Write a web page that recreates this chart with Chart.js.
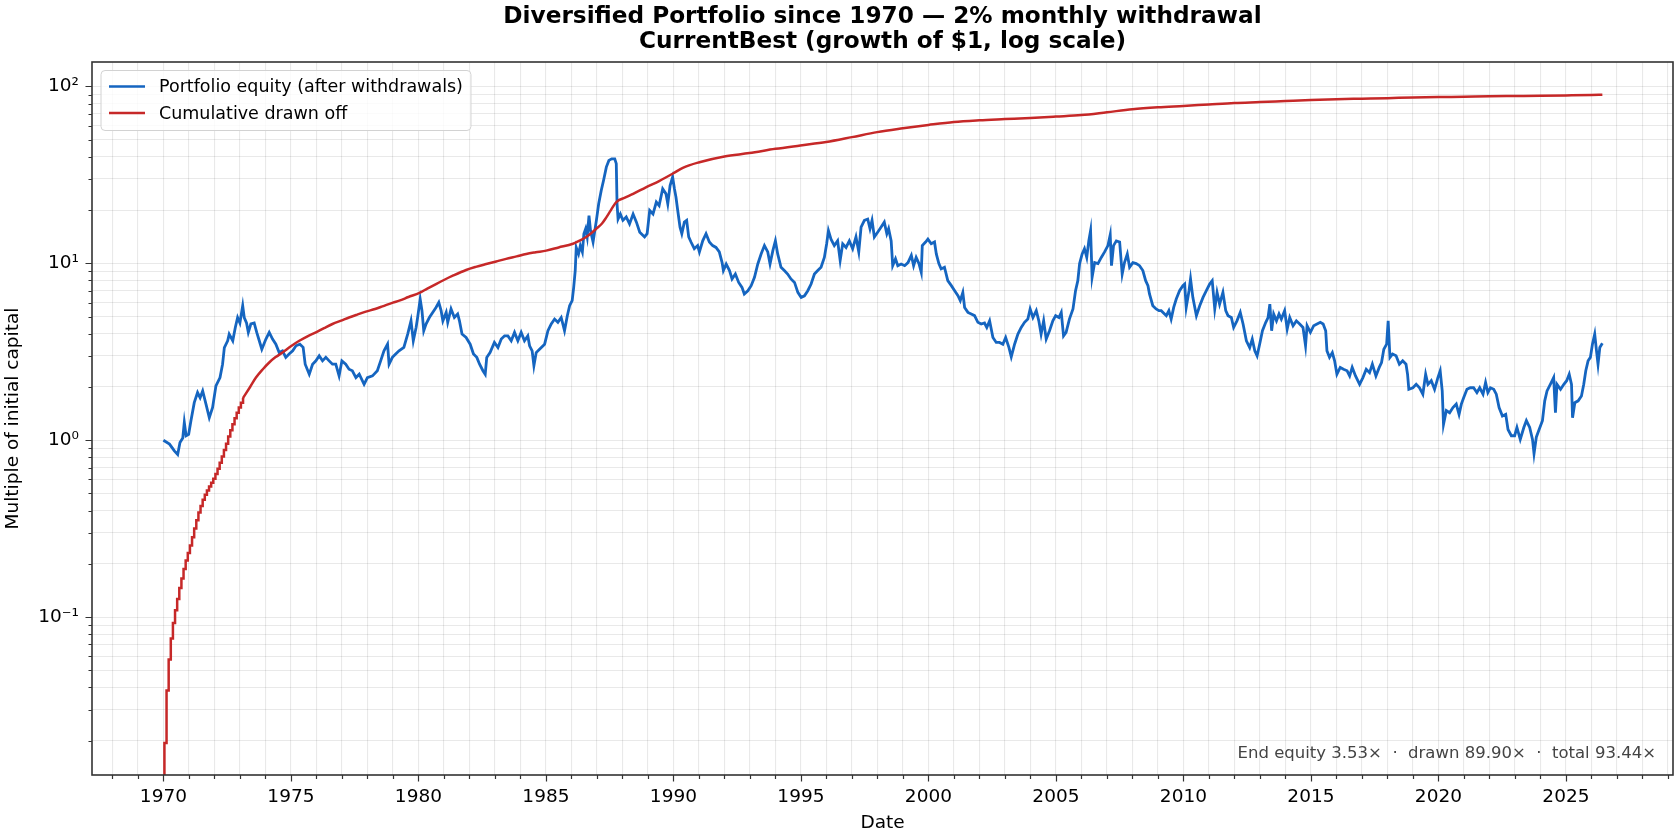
<!DOCTYPE html>
<html lang="en">
<head>
<meta charset="UTF-8">
<title>Diversified Portfolio since 1970 — 2% monthly withdrawal</title>
<script src="https://cdn.jsdelivr.net/npm/chart.js@4"></script>
<style>
    html, body { margin: 0; padding: 0; background: #fff; }
    #wrap { width: 1680px; height: 840px; }
</style>
</head>
<body>
<div id="wrap"><canvas id="equityChart" width="1680" height="840"></canvas></div>
<script>
// Portfolio equity, [year, multiple of initial capital]
const equity = [
    [1970.00,1.00],[1970.24,0.95],[1970.43,0.87],[1970.56,0.83],[1970.65,0.97],[1970.76,1.03],[1970.82,1.26],[1970.89,1.06],
    [1970.99,1.08],[1971.08,1.29],[1971.21,1.63],[1971.34,1.86],[1971.44,1.74],[1971.54,1.90],[1971.67,1.60],[1971.80,1.34],
    [1971.93,1.53],[1972.06,2.03],[1972.22,2.26],[1972.32,2.69],[1972.39,3.34],[1972.52,3.65],[1972.58,3.98],[1972.72,3.65],
    [1972.82,4.34],[1972.91,4.94],[1973.00,4.60],[1973.11,5.76],[1973.17,4.94],[1973.26,4.60],[1973.33,4.07],[1973.43,4.54],
    [1973.56,4.60],[1973.66,4.07],[1973.76,3.65],[1973.86,3.27],[1974.02,3.73],[1974.15,4.07],[1974.28,3.73],[1974.41,3.49],
    [1974.54,3.13],[1974.67,3.20],[1974.80,2.94],[1974.93,3.07],[1975.07,3.20],[1975.20,3.42],[1975.35,3.49],[1975.48,3.35],
    [1975.56,2.69],[1975.72,2.36],[1975.85,2.69],[1975.98,2.81],[1976.11,3.00],[1976.24,2.81],[1976.37,2.94],[1976.50,2.81],
    [1976.63,2.69],[1976.76,2.69],[1976.89,2.31],[1977.00,2.81],[1977.15,2.69],[1977.28,2.52],[1977.41,2.47],[1977.55,2.26],
    [1977.68,2.36],[1977.87,2.07],[1978.00,2.26],[1978.20,2.31],[1978.39,2.47],[1978.52,2.81],[1978.65,3.20],[1978.79,3.49],
    [1978.85,2.69],[1978.98,2.94],[1979.11,3.07],[1979.24,3.20],[1979.43,3.35],[1979.58,3.98],[1979.71,4.73],[1979.80,3.65],
    [1979.91,4.34],[1979.97,4.94],[1980.07,6.28],[1980.14,5.40],[1980.21,4.16],[1980.30,4.54],[1980.43,4.94],[1980.56,5.28],
    [1980.69,5.63],[1980.80,6.01],[1980.89,5.40],[1980.96,4.73],[1981.09,5.28],[1981.15,4.64],[1981.28,5.52],[1981.41,4.94],
    [1981.54,5.17],[1981.61,4.73],[1981.71,3.98],[1981.87,3.81],[1982.03,3.49],[1982.16,3.07],[1982.29,2.94],[1982.40,2.69],
    [1982.53,2.47],[1982.62,2.36],[1982.68,2.94],[1982.81,3.13],[1982.98,3.57],[1983.12,3.34],[1983.25,3.73],[1983.38,3.89],
    [1983.51,3.89],[1983.64,3.65],[1983.77,4.07],[1983.90,3.65],[1984.03,4.07],[1984.16,3.65],[1984.29,3.89],[1984.36,3.42],
    [1984.46,3.20],[1984.53,2.64],[1984.62,3.13],[1984.75,3.27],[1984.95,3.49],[1985.08,4.16],[1985.21,4.54],[1985.34,4.84],
    [1985.47,4.64],[1985.60,4.94],[1985.73,4.16],[1985.84,5.06],[1985.93,5.76],[1986.03,6.15],[1986.09,7.31],[1986.15,9.10],
    [1986.19,12.3],[1986.28,11.3],[1986.35,12.6],[1986.43,11.6],[1986.49,14.7],[1986.56,15.7],[1986.62,14.1],[1986.69,18.6],
    [1986.75,15.3],[1986.85,13.2],[1986.98,17.5],[1987.07,21.7],[1987.17,25.8],[1987.26,29.4],[1987.37,35.0],[1987.47,38.2],
    [1987.58,39.0],[1987.70,39.0],[1987.76,36.6],[1987.79,21.7],[1987.83,17.8],[1987.92,19.0],[1988.02,17.5],[1988.15,18.3],
    [1988.28,16.7],[1988.42,19.0],[1988.55,17.1],[1988.68,15.0],[1988.87,14.1],[1988.97,14.7],[1989.07,19.9],[1989.20,19.0],
    [1989.33,22.2],[1989.44,21.2],[1989.58,26.4],[1989.71,24.7],[1989.78,21.7],[1989.87,27.5],[1989.97,30.7],[1990.04,26.4],
    [1990.10,23.7],[1990.17,19.9],[1990.26,16.0],[1990.33,14.7],[1990.43,17.1],[1990.52,17.5],[1990.60,14.1],[1990.69,13.2],
    [1990.82,12.1],[1990.95,12.6],[1991.02,11.6],[1991.15,13.4],[1991.28,14.7],[1991.41,13.2],[1991.54,12.6],[1991.67,12.3],
    [1991.80,11.6],[1991.91,10.1],[1991.96,9.10],[1992.07,9.90],[1992.20,9.10],[1992.30,8.16],[1992.43,8.70],[1992.56,7.80],
    [1992.69,7.31],[1992.78,6.71],[1992.92,7.00],[1993.05,7.48],[1993.18,8.34],[1993.31,9.92],[1993.44,11.3],[1993.57,12.6],
    [1993.70,11.6],[1993.79,9.92],[1993.90,11.8],[1994.00,13.4],[1994.09,11.3],[1994.22,9.50],[1994.35,9.10],[1994.48,8.70],
    [1994.61,8.16],[1994.75,7.80],[1994.88,6.85],[1995.01,6.42],[1995.14,6.55],[1995.27,7.00],[1995.40,7.64],[1995.53,8.70],
    [1995.66,9.10],[1995.79,9.50],[1995.92,10.8],[1996.01,12.9],[1996.08,15.3],[1996.18,13.7],[1996.31,12.6],[1996.44,13.4],
    [1996.54,10.4],[1996.64,12.9],[1996.77,12.3],[1996.90,13.4],[1997.03,12.1],[1997.16,14.1],[1997.27,11.6],[1997.36,16.0],
    [1997.49,17.5],[1997.62,17.8],[1997.71,15.7],[1997.79,17.5],[1997.88,14.1],[1998.01,15.0],[1998.14,16.0],[1998.27,17.1],
    [1998.37,14.7],[1998.44,15.7],[1998.54,13.4],[1998.60,9.70],[1998.71,10.6],[1998.80,9.70],[1998.93,9.92],[1999.07,9.70],
    [1999.20,10.1],[1999.33,11.1],[1999.42,9.70],[1999.52,10.8],[1999.63,9.97],[1999.72,8.90],[1999.76,12.6],[1999.89,13.2],
    [1999.98,13.7],[2000.11,12.9],[2000.24,13.2],[2000.31,11.3],[2000.41,9.97],[2000.50,9.30],[2000.63,9.50],[2000.76,7.98],
    [2000.90,7.48],[2001.03,7.00],[2001.16,6.56],[2001.25,6.15],[2001.35,6.85],[2001.42,5.63],[2001.55,5.28],[2001.68,5.17],
    [2001.81,5.06],[2001.94,4.64],[2002.07,4.54],[2002.20,4.60],[2002.29,4.34],[2002.40,4.73],[2002.53,3.81],[2002.66,3.57],
    [2002.79,3.57],[2002.92,3.49],[2003.03,3.81],[2003.16,3.34],[2003.25,2.96],[2003.38,3.49],[2003.51,3.98],[2003.64,4.34],
    [2003.77,4.64],[2003.90,4.84],[2003.99,5.52],[2004.10,4.94],[2004.23,5.40],[2004.33,4.73],[2004.42,3.98],[2004.52,4.73],
    [2004.62,3.73],[2004.75,4.16],[2004.88,4.73],[2004.99,5.06],[2005.12,4.94],[2005.21,5.28],[2005.30,3.89],[2005.40,4.07],
    [2005.53,4.84],[2005.67,5.52],[2005.77,7.00],[2005.86,7.98],[2005.93,9.97],[2006.03,11.3],[2006.12,12.1],[2006.21,10.8],
    [2006.29,13.4],[2006.36,15.3],[2006.42,8.34],[2006.52,10.1],[2006.65,9.97],[2006.78,10.8],[2006.91,11.6],[2007.04,12.6],
    [2007.13,14.5],[2007.18,9.70],[2007.26,12.6],[2007.37,13.4],[2007.50,13.2],[2007.60,8.70],[2007.69,10.1],[2007.80,11.3],
    [2007.89,9.50],[2008.02,10.1],[2008.15,9.97],[2008.28,9.70],[2008.41,9.10],[2008.52,7.98],[2008.61,7.48],[2008.67,6.71],
    [2008.80,5.76],[2008.93,5.52],[2009.04,5.40],[2009.13,5.40],[2009.33,5.06],[2009.43,5.40],[2009.52,4.84],[2009.62,5.63],
    [2009.72,6.28],[2009.85,7.00],[2009.98,7.48],[2010.05,7.64],[2010.11,5.63],[2010.22,7.00],[2010.28,8.16],[2010.37,6.42],
    [2010.51,5.06],[2010.64,5.76],[2010.77,6.42],[2010.90,7.00],[2011.03,7.64],[2011.13,7.98],[2011.23,5.52],[2011.32,6.85],
    [2011.42,5.88],[2011.55,6.85],[2011.66,5.40],[2011.75,5.06],[2011.88,4.94],[2011.97,4.34],[2012.10,4.73],[2012.23,5.28],
    [2012.34,4.54],[2012.47,3.65],[2012.60,3.34],[2012.70,3.73],[2012.80,3.20],[2012.89,3.00],[2012.99,3.49],[2013.10,4.16],
    [2013.23,4.64],[2013.32,4.94],[2013.39,5.88],[2013.46,4.16],[2013.54,5.17],[2013.65,4.73],[2013.75,5.17],[2013.84,4.84],
    [2013.97,5.40],[2014.07,4.25],[2014.17,4.94],[2014.30,4.44],[2014.43,4.73],[2014.56,4.54],[2014.69,4.34],[2014.79,3.42],
    [2014.85,4.44],[2014.98,4.07],[2015.11,4.44],[2015.24,4.54],[2015.37,4.64],[2015.48,4.54],[2015.58,4.16],[2015.63,3.20],
    [2015.73,2.94],[2015.84,3.13],[2015.93,2.81],[2016.02,2.36],[2016.15,2.58],[2016.28,2.52],[2016.42,2.47],[2016.52,2.31],
    [2016.62,2.58],[2016.75,2.31],[2016.91,2.07],[2017.04,2.26],[2017.17,2.52],[2017.30,2.41],[2017.41,2.69],[2017.55,2.31],
    [2017.68,2.58],[2017.77,2.75],[2017.86,3.27],[2017.97,3.49],[2018.03,4.73],[2018.10,2.94],[2018.20,3.07],[2018.34,3.00],
    [2018.47,2.69],[2018.60,2.81],[2018.73,2.69],[2018.79,2.36],[2018.84,1.94],[2019.00,1.98],[2019.13,2.07],[2019.26,1.98],
    [2019.39,1.82],[2019.50,2.36],[2019.59,2.07],[2019.72,2.17],[2019.85,1.94],[2019.98,2.26],[2020.07,2.47],[2020.15,1.90],
    [2020.20,1.23],[2020.31,1.47],[2020.44,1.43],[2020.57,1.53],[2020.70,1.60],[2020.81,1.40],[2020.90,1.60],[2020.99,1.74],
    [2021.12,1.94],[2021.25,1.98],[2021.38,1.98],[2021.51,1.86],[2021.62,1.98],[2021.75,1.82],[2021.85,2.12],[2021.94,1.86],
    [2022.04,1.98],[2022.17,1.94],[2022.27,1.82],[2022.38,1.53],[2022.51,1.37],[2022.64,1.40],[2022.73,1.15],[2022.86,1.06],
    [2022.99,1.06],[2023.08,1.18],[2023.21,1.01],[2023.35,1.18],[2023.45,1.29],[2023.58,1.18],[2023.69,1.01],[2023.75,0.84],
    [2023.84,1.04],[2023.95,1.15],[2024.08,1.29],[2024.17,1.67],[2024.26,1.90],[2024.39,2.07],[2024.52,2.26],[2024.59,1.43],
    [2024.65,2.07],[2024.79,1.94],[2024.92,2.07],[2025.03,2.17],[2025.13,2.36],[2025.22,2.07],[2025.26,1.34],[2025.35,1.63],
    [2025.48,1.67],[2025.61,1.78],[2025.70,2.07],[2025.78,2.47],[2025.87,2.81],[2025.96,2.94],[2026.04,3.49],[2026.13,3.98],
    [2026.20,3.20],[2026.26,2.69],[2026.33,3.34],[2026.43,3.53]
];

// Cumulative drawn off: nothing before the first withdrawal, then one step per month
const drawnStartYear = 1970.00;
const firstWithdrawal = 1970.04;
const drawnMonthly = [
    0.0194, 0.0384, 0.0575, 0.0757, 0.0927, 0.1094, 0.1267, 0.1462, 0.1654, 0.1868,
    0.209, 0.230, 0.254, 0.283, 0.317, 0.353, 0.390, 0.425, 0.460, 0.492,
    0.520, 0.548, 0.575, 0.605, 0.645, 0.690, 0.745, 0.810, 0.880, 0.955,
    1.05, 1.14, 1.23, 1.33, 1.43, 1.53, 1.63, 1.73
];
// after 1973 the monthly steps are too fine to see, [year, multiple]
const drawnLater = [
    [1973.12,1.73],[1973.40,2.00],[1973.63,2.26],[1973.90,2.52],[1974.15,2.75],[1974.40,2.95],[1974.67,3.13],[1975.00,3.40],
    [1975.33,3.65],[1975.65,3.87],[1975.98,4.07],[1976.30,4.30],[1976.63,4.54],[1977.00,4.76],[1977.28,4.94],[1977.60,5.13],
    [1977.94,5.33],[1978.30,5.52],[1978.59,5.71],[1979.00,6.00],[1979.25,6.15],[1979.61,6.45],[1980.04,6.80],[1980.35,7.20],
    [1980.69,7.64],[1981.00,8.05],[1981.35,8.51],[1981.87,9.17],[1982.25,9.55],[1982.66,9.91],[1983.05,10.25],[1983.44,10.6],
    [1983.85,10.95],[1984.23,11.3],[1984.60,11.55],[1985.01,11.8],[1985.50,12.3],[1986.06,12.9],[1986.30,13.4],[1986.58,14.1],
    [1986.80,14.9],[1986.98,15.7],[1987.20,16.8],[1987.37,18.2],[1987.55,20.0],[1987.76,22.2],[1988.10,23.5],[1988.42,24.7],
    [1988.94,27.0],[1989.44,29.2],[1990.00,32.3],[1990.37,34.7],[1991.02,37.3],[1992.00,40.2],[1992.98,42.0],[1994.00,44.4],
    [1994.98,46.4],[1995.99,48.5],[1997.00,51.7],[1997.99,55.2],[1999.00,58.0],[2000.00,60.6],[2001.00,63.0],[2002.00,64.4],
    [2003.00,65.4],[2004.00,66.4],[2005.00,67.6],[2006.00,68.9],[2007.00,71.5],[2008.00,74.3],[2009.00,76.2],[2010.00,77.6],
    [2011.00,79.1],[2012.00,80.6],[2013.00,81.6],[2014.00,82.7],[2015.00,83.8],[2016.00,84.7],[2017.00,85.3],[2018.00,85.9],
    [2019.00,86.6],[2020.00,87.1],[2021.00,87.5],[2022.00,88.0],[2023.00,88.3],[2024.00,88.6],[2025.00,89.0],[2026.00,89.5],
    [2026.43,89.9]
];

const yearLabels = [1970, 1975, 1980, 1985, 1990, 1995, 2000, 2005, 2010, 2015, 2020, 2025];
const decadeTicks = [0.1, 1, 10, 100];
const decadeLabels = ['10⁻¹', '10⁰', '10¹', '10²'];
const endEquity = 3.53, endDrawn = 89.90, endTotal = 93.44;

const titleLines = ['Diversified Portfolio since 1970 — 2% monthly withdrawal',
                    'CurrentBest (growth of $1, log scale)'];

const BLUE = '#1565c0';
const RED = '#c62828';
const GRID = 'rgba(0,0,0,0.085)';
const INK = '#333';
const FONT = "'DejaVu Sans', 'Liberation Sans', sans-serif";

Chart.defaults.font.family = FONT;
Chart.defaults.color = '#000';

const asPoints = arr => arr.map(p => ({ x: p[0], y: p[1] }));
const drawnSteps = [{ x: drawnStartYear, y: 0 }]
    .concat(drawnMonthly.map((v, i) => ({ x: firstWithdrawal + i / 12, y: v })));

// frame, tick marks, title, legend and the note in the corner
const decorations = {
    id: 'decorations',
    afterDatasetsDraw(chart) {
        const ctx = chart.ctx, a = chart.chartArea;
        const xs = chart.scales.x, ys = chart.scales.y;
        ctx.save();
        ctx.strokeStyle = INK;
        ctx.lineWidth = 1.2;
        ctx.beginPath();
        xs.ticks.forEach(t => {
            const px = Math.round(xs.getPixelForValue(t.value)) + 0.5;
            const len = yearLabels.includes(t.value) ? 6.5 : 4;
            ctx.moveTo(px, a.bottom); ctx.lineTo(px, a.bottom + len);
        });
        ys.ticks.forEach(t => {
            const py = Math.round(ys.getPixelForValue(t.value)) + 0.5;
            const len = decadeTicks.includes(t.value) ? 6.5 : 3.5;
            ctx.moveTo(a.left, py); ctx.lineTo(a.left - len, py);
        });
        ctx.stroke();
        ctx.lineWidth = 1.6;
        ctx.strokeRect(a.left, a.top, a.right - a.left, a.bottom - a.top);
        ctx.restore();
    },
    afterDraw(chart) {
        const ctx = chart.ctx, a = chart.chartArea;
        ctx.save();
        // title, centred over the plot
        ctx.fillStyle = '#000';
        ctx.font = 'bold 23.2px ' + FONT;
        ctx.textAlign = 'center';
        ctx.textBaseline = 'middle';
        const cx = (a.left + a.right) / 2;
        ctx.fillText(titleLines[0], cx, a.top - 45);
        ctx.fillText(titleLines[1], cx, a.top - 20);

        // legend box, upper left
        const items = chart.data.datasets.filter(d => !d.legendSkip);
        ctx.font = '17.5px ' + FONT;
        const textW = Math.max(...items.map(d => ctx.measureText(d.label).width));
        const bx = a.left + 9, by = a.top + 8.5;
        const bw = 8 + 36 + 14 + textW + 8, bh = 60;
        ctx.beginPath();
        ctx.roundRect(bx, by, bw, bh, 4);
        ctx.fillStyle = 'rgba(255,255,255,0.8)';
        ctx.fill();
        ctx.strokeStyle = '#d2d2d2';
        ctx.lineWidth = 1;
        ctx.stroke();
        ctx.textAlign = 'left';
        items.forEach((d, i) => {
            const ry = by + 16 + i * 26.5;
            ctx.strokeStyle = d.borderColor;
            ctx.lineWidth = 2.5;
            ctx.beginPath();
            ctx.moveTo(bx + 8, ry); ctx.lineTo(bx + 44, ry);
            ctx.stroke();
            ctx.fillStyle = '#000';
            ctx.fillText(d.label, bx + 58, ry + 1);
        });

        // summary note, lower right
        ctx.font = '16.5px ' + FONT;
        ctx.fillStyle = '#444';
        ctx.textAlign = 'right';
        ctx.textBaseline = 'alphabetic';
        const note = 'End equity ' + endEquity.toFixed(2) + '×  ·  drawn ' + endDrawn.toFixed(2) +
                     '×  ·  total ' + endTotal.toFixed(2) + '×';
        ctx.fillText(note, a.right - 17, a.bottom - 17);
        ctx.restore();
    }
};

const ctx = document.getElementById('equityChart').getContext('2d');
const equityChart = new Chart(ctx, {
    type: 'line',
    data: {
        datasets: [
            {
                label: 'Portfolio equity (after withdrawals)',
                data: asPoints(equity),
                borderColor: BLUE,
                borderWidth: 2.8,
                pointRadius: 0,
                order: 2
            },
            {
                label: 'Cumulative drawn off',
                data: drawnSteps,
                borderColor: RED,
                borderWidth: 2.5,
                pointRadius: 0,
                stepped: 'before',
                order: 1
            },
            {
                label: 'Cumulative drawn off',
                legendSkip: true,
                data: asPoints(drawnLater),
                borderColor: RED,
                borderWidth: 2.5,
                pointRadius: 0,
                cubicInterpolationMode: 'monotone',
                order: 1
            }
        ]
    },
    options: {
        responsive: false,
        animation: false,
        parsing: false,
        events: [],
        layout: { padding: { top: 62, right: 7, left: 0, bottom: 0 } },
        plugins: {
            legend: { display: false },
            title: { display: false },
            tooltip: { enabled: false }
        },
        scales: {
            x: {
                type: 'linear',
                min: 1967.2,
                max: 2029.2,
                afterBuildTicks: scale => {
                    const ticks = [];
                    for (let y = Math.ceil(scale.min); y <= scale.max; y++) ticks.push({ value: y });
                    scale.ticks = ticks;
                },
                afterFit: scale => { scale.height = 65; },
                grid: { color: GRID, lineWidth: 1.1, drawTicks: false },
                border: { display: false },
                ticks: {
                    autoSkip: false,
                    maxRotation: 0,
                    minRotation: 0,
                    padding: 11,
                    font: { size: 18.5 },
                    callback: v => yearLabels.includes(v) ? String(v) : ''
                },
                title: {
                    display: true,
                    text: 'Date',
                    font: { size: 18.5 },
                    padding: { top: 0, bottom: 6 }
                }
            },
            y: {
                type: 'logarithmic',
                min: 0.0128,
                max: 137.5,
                afterBuildTicks: scale => {
                    const ticks = [];
                    for (let e = -2; e <= 2; e++) {
                        for (let m = 1; m <= 9; m++) {
                            const v = m * Math.pow(10, e);
                            if (v >= scale.min && v <= scale.max) ticks.push({ value: v });
                        }
                    }
                    scale.ticks = ticks;
                },
                afterFit: scale => { scale.width = 92; },
                grid: { color: GRID, lineWidth: 1.1, drawTicks: false },
                border: { display: false },
                ticks: {
                    autoSkip: false,
                    padding: 13,
                    font: { size: 18.5 },
                    callback: v => {
                        const i = decadeTicks.findIndex(d => Math.abs(d - v) < d * 1e-6);
                        return i >= 0 ? decadeLabels[i] : '';
                    }
                },
                title: {
                    display: true,
                    text: 'Multiple of initial capital',
                    font: { size: 18.5 },
                    padding: { top: 2, bottom: 0 }
                }
            }
        }
    },
    plugins: [decorations]
});
</script>
</body>
</html>
